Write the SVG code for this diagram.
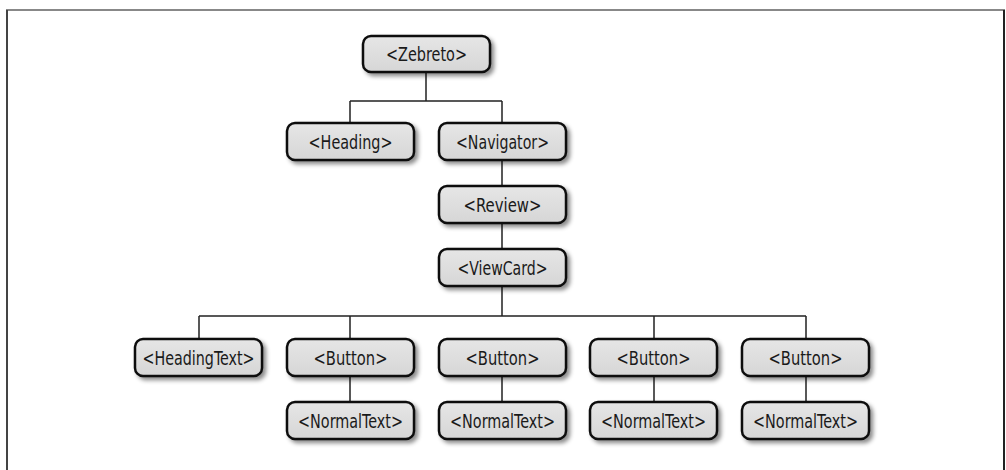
<svg xmlns="http://www.w3.org/2000/svg" width="1006" height="470" viewBox="0 0 1006 470">
  <defs>
    <linearGradient id="boxFill" x1="0" y1="0" x2="0" y2="1">
      <stop offset="0" stop-color="#e6e6e6"/>
      <stop offset="1" stop-color="#d6d6d6"/>
    </linearGradient>
    <filter id="shadow" x="-10%" y="-20%" width="130%" height="160%">
      <feDropShadow dx="3" dy="3" stdDeviation="2" flood-color="#000" flood-opacity="0.45"/>
    </filter>
  </defs>
  <style>
    .box { fill: url(#boxFill); stroke: #111; stroke-width: 2.5; filter: url(#shadow); }
    .label { font-family: "DejaVu Sans Condensed", "DejaVu Sans", sans-serif; font-stretch: condensed; font-size: 19.5px; fill: #1a1a1a; text-anchor: middle; }
    .link { fill: none; stroke: #222; stroke-width: 1.5; }
    .frame { fill: none; stroke-width: 2; }
  </style>

  <rect width="1006" height="470" fill="#fff"/>

  <!-- outer frame -->
  <g id="frame">
    <line class="frame" x1="6" y1="10" x2="1005" y2="10" stroke="#888"/>
    <line class="frame" x1="7" y1="10" x2="7" y2="470" stroke="#444"/>
    <line class="frame" x1="1004" y1="10" x2="1004" y2="470" stroke="#222"/>
  </g>

  <!-- connectors -->
  <g id="connectors">
    <path class="link" d="M426,72 V101 M350,101 H502 M350,101 V123 M502,101 V123"/>
    <path class="link" d="M502,160 V186 M502,223 V249"/>
    <path class="link" d="M502,286 V316 M199,316 H806 M199,316 V339 M350,316 V339 M654,316 V339 M806,316 V339"/>
    <path class="link" d="M350,376 V402 M502,376 V402 M654,376 V402 M806,376 V402"/>
  </g>

  <g id="zebreto">
    <rect class="box" x="363" y="36" width="127" height="36" rx="8"/>
    <text class="label" x="426.5" y="60.5" textLength="81" lengthAdjust="spacingAndGlyphs">&lt;Zebreto&gt;</text>
  </g>
  <g id="heading">
    <rect class="box" x="287" y="123" width="127" height="37" rx="8"/>
    <text class="label" x="350.5" y="148.5" textLength="84" lengthAdjust="spacingAndGlyphs">&lt;Heading&gt;</text>
  </g>
  <g id="navigator">
    <rect class="box" x="439" y="123" width="127" height="37" rx="8"/>
    <text class="label" x="502.5" y="148.5" textLength="93" lengthAdjust="spacingAndGlyphs">&lt;Navigator&gt;</text>
  </g>
  <g id="review">
    <rect class="box" x="439" y="186" width="127" height="37" rx="8"/>
    <text class="label" x="502.5" y="211.5" textLength="78" lengthAdjust="spacingAndGlyphs">&lt;Review&gt;</text>
  </g>
  <g id="viewcard">
    <rect class="box" x="439" y="249" width="127" height="37" rx="8"/>
    <text class="label" x="502.5" y="274.5" textLength="90" lengthAdjust="spacingAndGlyphs">&lt;ViewCard&gt;</text>
  </g>
  <g id="headingtext">
    <rect class="box" x="135" y="339" width="127" height="37" rx="8"/>
    <text class="label" x="198.5" y="364.5" textLength="112" lengthAdjust="spacingAndGlyphs">&lt;HeadingText&gt;</text>
  </g>
  <g id="button-1">
    <rect class="box" x="287" y="339" width="127" height="37" rx="8"/>
    <text class="label" x="350.5" y="364.5" textLength="74" lengthAdjust="spacingAndGlyphs">&lt;Button&gt;</text>
  </g>
  <g id="button-2">
    <rect class="box" x="439" y="339" width="127" height="37" rx="8"/>
    <text class="label" x="502.5" y="364.5" textLength="74" lengthAdjust="spacingAndGlyphs">&lt;Button&gt;</text>
  </g>
  <g id="button-3">
    <rect class="box" x="590" y="339" width="127" height="37" rx="8"/>
    <text class="label" x="653.5" y="364.5" textLength="74" lengthAdjust="spacingAndGlyphs">&lt;Button&gt;</text>
  </g>
  <g id="button-4">
    <rect class="box" x="742" y="339" width="127" height="37" rx="8"/>
    <text class="label" x="805.5" y="364.5" textLength="74" lengthAdjust="spacingAndGlyphs">&lt;Button&gt;</text>
  </g>
  <g id="normaltext-1">
    <rect class="box" x="287" y="402" width="127" height="37" rx="8"/>
    <text class="label" x="350.5" y="427.5" textLength="105" lengthAdjust="spacingAndGlyphs">&lt;NormalText&gt;</text>
  </g>
  <g id="normaltext-2">
    <rect class="box" x="439" y="402" width="127" height="37" rx="8"/>
    <text class="label" x="502.5" y="427.5" textLength="105" lengthAdjust="spacingAndGlyphs">&lt;NormalText&gt;</text>
  </g>
  <g id="normaltext-3">
    <rect class="box" x="590" y="402" width="127" height="37" rx="8"/>
    <text class="label" x="653.5" y="427.5" textLength="105" lengthAdjust="spacingAndGlyphs">&lt;NormalText&gt;</text>
  </g>
  <g id="normaltext-4">
    <rect class="box" x="742" y="402" width="127" height="37" rx="8"/>
    <text class="label" x="805.5" y="427.5" textLength="105" lengthAdjust="spacingAndGlyphs">&lt;NormalText&gt;</text>
  </g>
</svg>
